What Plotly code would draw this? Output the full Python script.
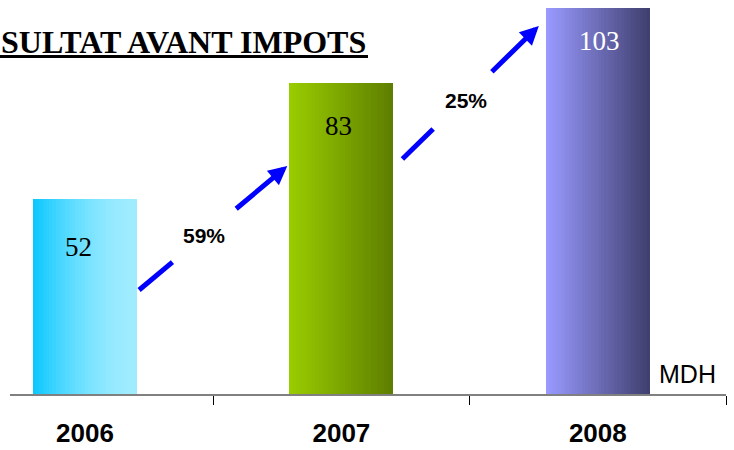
import plotly.graph_objects as go

# ---- data ----
years = ["2006", "2007", "2008"]
values = [52, 83, 103]
growth = ["59%", "25%"]
unit_label = "MDH"
title_text = "SULTAT AVANT IMPOTS"

# ---- style ----
grad = [("#0DC8FF", "#A0ECFF", 1.7), ("#99CC00", "#5E7E00", 1.0), ("#9999FF", "#404070", 1.0)]
label_colors = ["black", "black", "white"]
label_shift = [-48, -43, -33]
label_xshift = [-7, -3, 2]
BAR_W = 0.406
N_SLICES = 32
# arrows: (start_x, start_y, tip_x, tip_y, label_x, label_y) in axis units
ARROWS = [(0.211, 27.75, 0.789, 60.83, 0.465, 42.4),
          (1.238, 62.70, 1.770, 98.19, 1.484, 78.4)]
GAP = (0.225, 0.645)
BLUE = "#0000FF"


def hex2rgb(h):
    h = h.lstrip("#")
    return tuple(int(h[i:i + 2], 16) for i in (0, 2, 4))


def mix(a, b, t):
    ra, rb = hex2rgb(a), hex2rgb(b)
    return "rgb(%d,%d,%d)" % tuple(round(ra[i] + (rb[i] - ra[i]) * t) for i in range(3))


fig = go.Figure()
xs = list(range(len(years)))
sw = BAR_W / N_SLICES
for k in range(N_SLICES):
    t = k / (N_SLICES - 1)
    cols = []
    for a, b, p in grad:
        tt = 1 - (1 - t) ** p
        cols.append(mix(a, b, tt))
    off = -BAR_W / 2 + k * sw
    w = min(sw * 1.8, BAR_W / 2 - off)
    fig.add_bar(x=xs, y=values, offset=off, width=w,
                marker=dict(color=cols, line=dict(width=0)),
                hoverinfo="skip", showlegend=False)

annotations = []
for i, v in enumerate(values):
    annotations.append(dict(x=xs[i], y=v, xref="x", yref="y", text=str(v), showarrow=False,
                            xanchor="center", yanchor="middle", yshift=label_shift[i], xshift=label_xshift[i],
                            font=dict(family="Liberation Serif, Times New Roman, serif", size=27,
                                      color=label_colors[i])))

shapes = []
for (sx, sy, tx, ty, lx, ly), g in zip(ARROWS, growth):
    p1 = (sx + (tx - sx) * GAP[0], sy + (ty - sy) * GAP[0])
    p2 = (sx + (tx - sx) * GAP[1], sy + (ty - sy) * GAP[1])
    shapes.append(dict(type="line", xref="x", yref="y", x0=sx, y0=sy, x1=p1[0], y1=p1[1],
                       line=dict(color=BLUE, width=5)))
    annotations.append(dict(x=tx, y=ty, ax=p2[0], ay=p2[1], xref="x", yref="y", axref="x", ayref="y",
                            text="", showarrow=True, arrowhead=2, arrowsize=0.75, arrowwidth=5,
                            arrowcolor=BLUE, standoff=0, startstandoff=0))
    annotations.append(dict(x=lx, y=ly, xref="x", yref="y", text=g, showarrow=False,
                            font=dict(family="Liberation Sans, Arial, sans-serif", size=21,
                                      color="black", weight="bold")))

# title and unit
annotations.append(dict(x=0.5, y=0.8934, xref="paper", yref="paper", text=title_text, showarrow=False,
                        xanchor="right", yanchor="middle",
                        font=dict(family="Liberation Serif, Times New Roman, serif", size=32,
                                  color="black", weight="bold")))
shapes.append(dict(type="line", xref="paper", yref="paper", x0=-0.02, x1=0.5, y0=0.8566, y1=0.8566,
                   line=dict(color="black", width=3)))
annotations.append(dict(x=0.9888, y=0.05, xref="paper", yref="paper", text=unit_label, showarrow=False,
                        xanchor="right", yanchor="middle",
                        font=dict(family="Liberation Sans, Arial, sans-serif", size=25, color="black")))

fig.update_layout(
    width=734, height=450,
    margin=dict(l=10, r=8, t=0, b=56, autoexpand=False),
    paper_bgcolor="white", plot_bgcolor="white",
    barmode="overlay", bargap=0,
    showlegend=False,
    annotations=annotations, shapes=shapes,
    xaxis=dict(range=[-0.2925, 2.5], tickmode="array", tickvals=xs, ticktext=years,
               automargin=False,
               ticks="", showgrid=False, zeroline=False,
               showline=True, linecolor="#808080", linewidth=2,
               tickfont=dict(family="Liberation Sans, Arial, sans-serif", size=26, color="black", weight="bold"),
               ticklabelstandoff=15,
               minor=dict(tickmode="array", tickvals=[0.5, 1.5, 2.5], ticks="outside", ticklen=9,
                          tickcolor="black", tickwidth=1, showgrid=False)),
    yaxis=dict(range=[0, 105.1], visible=False, showgrid=False, zeroline=False, automargin=False),
)

fig.write_html("out.html", config={"displayModeBar": False},
               post_script="document.body.style.margin='0px';")
